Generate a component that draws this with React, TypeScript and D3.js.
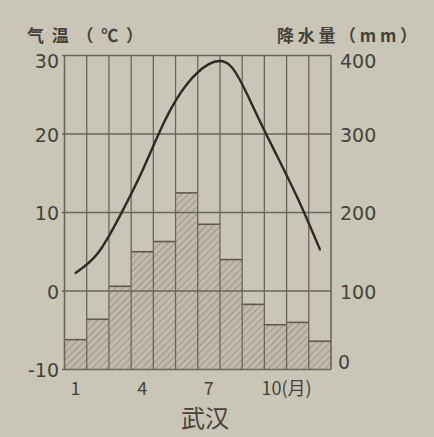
import React from "react";
import * as d3 from "d3";

const months = [1, 2, 3, 4, 5, 6, 7, 8, 9, 10, 11, 12];
const temperature = [2.3, 4.8, 9.6, 15.3, 21.6, 26.3, 28.9, 28.6, 23.4, 17.6, 11.8, 5.3];
const precipitation = [38, 64, 106, 150, 163, 225, 185, 140, 83, 57, 60, 36];
const tempTicks = [-10, 0, 10, 20, 30];
const precipTicks = [0, 100, 200, 300, 400];
const monthLabels = [
  { m: 1, label: "1" },
  { m: 4, label: "4" },
  { m: 7, label: "7" },
  { m: 10, label: "10(月)" },
];
const leftTitle = "气温（℃）";
const rightTitle = "降水量（mm）";
const cityName = "武汉";

const W = 434;
const H = 437;

export default function App() {
  const x = d3.scaleBand<number>().domain(months).range([64.5, 331]).padding(0);
  const yT = d3.scaleLinear().domain([-10, 30]).range([369.5, 55.5]);
  const yP = d3.scaleLinear().domain([0, 400]).range([369.5, 55.5]);
  const cx = (m: number) => (x(m) as number) + x.bandwidth() / 2;

  const line = d3
    .line<number>()
    .x((_, i) => cx(months[i]))
    .y((d) => yT(d))
    .curve(d3.curveNatural);

  const gridColor = "#6a655b";
  const textColor = "#46423b";
  const font = "'DejaVu Sans', 'Noto Sans CJK SC', sans-serif";
  const cjk = "'Noto Sans CJK SC', 'DejaVu Sans', sans-serif";

  const boundaries = [...months.map((m) => x(m) as number), x.range()[1]];

  return (
    <div style={{ position: "fixed", left: 0, top: 0 }}>
      <svg width={W} height={H} viewBox={`0 0 ${W} ${H}`} style={{ display: "block" }}>
        <defs>
          <pattern id="hatch" width="5" height="5" patternUnits="userSpaceOnUse" patternTransform="rotate(45)">
            <rect width="5" height="5" fill="#bfbbac" />
            <line x1="0" y1="0" x2="0" y2="5" stroke="#8e897c" strokeWidth="1.4" />
          </pattern>
        </defs>
        <rect width={W} height={H} fill="#c9c6b8" />

        {/* bars */}
        {precipitation.map((p, i) => {
          const m = months[i];
          const x0 = x(m) as number;
          return (
            <g key={m}>
              <rect x={x0} y={yP(p)} width={x.bandwidth()} height={yP(0) - yP(p)} fill="url(#hatch)" />
              <line x1={x0} x2={x0 + x.bandwidth()} y1={yP(p)} y2={yP(p)} stroke="#5f5a50" strokeWidth={1.6} />
            </g>
          );
        })}

        {/* horizontal grid */}
        {tempTicks.map((t) => (
          <line key={t} x1={62} x2={331} y1={yT(t)} y2={yT(t)} stroke={gridColor} strokeWidth={1.5} />
        ))}
        {/* vertical grid */}
        {boundaries.map((b, i) => (
          <line key={i} x1={b} x2={b} y1={yT(30)} y2={yT(-10)} stroke={gridColor} strokeWidth={i === 0 || i === 12 ? 1.6 : 1.3} />
        ))}

        {/* temperature curve */}
        <path d={line(temperature) || ""} fill="none" stroke="#2e2924" strokeWidth={2.4} strokeLinecap="round" />

        {/* left ticks */}
        {tempTicks.map((t) => (
          <text key={t} x={59} y={yT(t) + (t === 30 ? 7 : 2)} textAnchor="end" dominantBaseline="middle" fontFamily={font} fontSize={19} fill={textColor}>
            {t}
          </text>
        ))}
        {/* right ticks */}
        {precipTicks.map((p) => (
          <text key={p} x={p === 0 ? 338 : 340} y={yP(p) + (p === 400 ? 7 : p === 0 ? -6 : 2)} textAnchor="start" dominantBaseline="middle" fontFamily={font} fontSize={19} fill={textColor}>
            {p}
          </text>
        ))}

        {/* titles */}
        <text x={27} y={42} fontFamily={cjk} fontSize={17} fontWeight={700} fill={textColor} textLength={116} lengthAdjust="spacing">
          {leftTitle}
        </text>
        <text x={277} y={42} fontFamily={cjk} fontSize={17} fontWeight={700} fill={textColor} textLength={140} lengthAdjust="spacing">
          {rightTitle}
        </text>

        {/* month labels */}
        {monthLabels.map((d) => (
          <text key={d.m} x={d.m === 10 ? cx(d.m) - 14 : cx(d.m)} y={395} textAnchor={d.m === 10 ? "start" : "middle"} fontFamily={cjk} fontSize={18} fill={textColor}>
            {d.label}
          </text>
        ))}

        <text x={205} y={427} textAnchor="middle" fontFamily={cjk} fontSize={24} fill={textColor}>
          {cityName}
        </text>
      </svg>
    </div>
  );
}
